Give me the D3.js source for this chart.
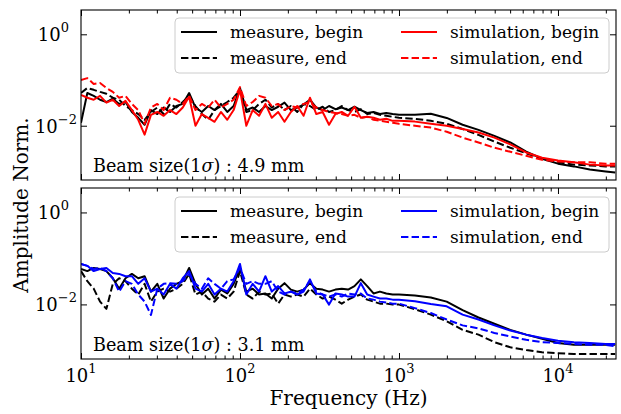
<!DOCTYPE html>
<html>
<head>
<meta charset="utf-8">
<script src="https://cdn.jsdelivr.net/npm/d3@7"></script>
<style>
  body { margin: 0; background: #fff; }
  svg { display: block; font-family: "DejaVu Serif", serif; }
</style>
</head>
<body>
<div id="chart"></div>
<script>
// frequency grid (Hz)
const freq = [10, 10.96, 12.02, 13.18, 14.45, 15.85, 17.38, 19.05, 20.89, 22.91,
  25.12, 27.54, 30.2, 33.11, 36.31, 39.81, 43.65, 47.86, 52.48, 57.54,
  63.1, 69.18, 75.86, 83.18, 91.2, 100, 109.6, 120.2, 131.8, 144.5,
  158.5, 173.8, 190.5, 208.9, 229.1, 251.2, 275.4, 302, 331.1, 363.1,
  398.1, 436.5, 478.6, 524.8, 575.4, 631, 691.8, 758.6, 831.8, 912, 1000,
  1259, 1585, 1995, 2512, 3162, 3981, 5012, 6310, 7943, 10000, 12589, 15849, 19953, 22909]

// top panel, beam size 4.9 mm
const topMeasureBegin = [0.0116, 0.052, 0.045, 0.037, 0.033, 0.039, 0.030, 0.033, 0.020, 0.0149,
  0.0105, 0.022, 0.018, 0.025, 0.020, 0.027, 0.030, 0.052, 0.025, 0.020,
  0.027, 0.022, 0.030, 0.020, 0.027, 0.067, 0.022, 0.025, 0.020, 0.027,
  0.022, 0.026, 0.032, 0.022, 0.025, 0.029, 0.037, 0.025, 0.022, 0.027,
  0.023, 0.025, 0.022, 0.026, 0.022, 0.019, 0.020, 0.018, 0.019, 0.018, 0.0173,
  0.0174, 0.0182, 0.0148, 0.0105, 0.0081, 0.0060, 0.0043, 0.0027, 0.0019, 0.00148, 0.00129, 0.0011, 0.0010, 0.00095]
const topMeasureEnd = [0.052, 0.067, 0.061, 0.055, 0.050, 0.041, 0.037, 0.027, 0.022, 0.018,
  0.0135, 0.020, 0.025, 0.018, 0.030, 0.025, 0.033, 0.045, 0.027, 0.018,
  0.0135, 0.022, 0.027, 0.033, 0.041, 0.061, 0.020, 0.022, 0.030, 0.037,
  0.025, 0.030, 0.022, 0.027, 0.020, 0.030, 0.027, 0.022, 0.026, 0.020,
  0.022, 0.027, 0.022, 0.020, 0.023, 0.018, 0.019, 0.0173, 0.0165, 0.0157, 0.0149,
  0.0142, 0.0128, 0.0110, 0.0085, 0.0063, 0.0045, 0.0033, 0.0025, 0.0019, 0.00158, 0.00141, 0.00135, 0.00129, 0.00129]
const topSimBegin = [0.047, 0.041, 0.037, 0.045, 0.032, 0.037, 0.027, 0.035, 0.022, 0.0135,
  0.0064, 0.0173, 0.020, 0.0165, 0.022, 0.018, 0.025, 0.043, 0.0100, 0.018,
  0.0149, 0.0122, 0.020, 0.0135, 0.022, 0.061, 0.0100, 0.022, 0.0165, 0.030,
  0.0149, 0.020, 0.0122, 0.020, 0.027, 0.0165, 0.041, 0.018, 0.020, 0.0105,
  0.018, 0.020, 0.0165, 0.026, 0.0149, 0.0157, 0.0149, 0.0135, 0.0142, 0.0128, 0.0128,
  0.0123, 0.0110, 0.0100, 0.0085, 0.0071, 0.0055, 0.0039, 0.0026, 0.0020, 0.00174, 0.00158, 0.00141, 0.00135, 0.00135]
const topSimEnd = [0.100, 0.110, 0.082, 0.086, 0.067, 0.055, 0.041, 0.045, 0.030, 0.022,
  0.0110, 0.025, 0.030, 0.022, 0.041, 0.037, 0.030, 0.045, 0.022, 0.030,
  0.025, 0.037, 0.025, 0.030, 0.037, 0.070, 0.027, 0.033, 0.045, 0.041,
  0.027, 0.030, 0.022, 0.027, 0.025, 0.030, 0.033, 0.025, 0.022, 0.020,
  0.019, 0.018, 0.0165, 0.0173, 0.0149, 0.0157, 0.0135, 0.0128, 0.0122, 0.0116, 0.0110,
  0.0100, 0.0091, 0.0074, 0.0055, 0.0043, 0.0033, 0.0027, 0.0022, 0.0018, 0.00166, 0.00158, 0.00158, 0.00148, 0.00148]

// bottom panel, beam size 3.1 mm
const botMeasureBegin = [0.059, 0.053, 0.062, 0.059, 0.053, 0.037, 0.022, 0.037, 0.046, 0.037,
  0.041, 0.019, 0.028, 0.0134, 0.022, 0.028, 0.032, 0.062, 0.028, 0.0164,
  0.022, 0.0134, 0.021, 0.0173, 0.028, 0.062, 0.019, 0.022, 0.0164, 0.0173,
  0.0134, 0.022, 0.029, 0.021, 0.019, 0.021, 0.029, 0.022, 0.021, 0.019,
  0.021, 0.022, 0.021, 0.025, 0.035, 0.025, 0.0173, 0.019, 0.0173, 0.0164, 0.0164,
  0.0156, 0.0141, 0.0115, 0.0075, 0.0052, 0.0038, 0.0028, 0.0022, 0.0018, 0.00145, 0.00132, 0.00132, 0.00132, 0.00132]
const botMeasureEnd = [0.053, 0.032, 0.022, 0.0115, 0.0080, 0.028, 0.037, 0.032, 0.022, 0.0164,
  0.028, 0.0115, 0.019, 0.022, 0.019, 0.022, 0.028, 0.046, 0.0164, 0.019,
  0.0134, 0.0115, 0.0164, 0.0134, 0.019, 0.053, 0.0164, 0.0134, 0.019, 0.0164,
  0.0173, 0.0104, 0.0164, 0.0148, 0.0164, 0.0148, 0.022, 0.0164, 0.0134, 0.0148,
  0.0127, 0.0104, 0.0127, 0.0148, 0.0164, 0.0127, 0.0115, 0.0104, 0.0104, 0.0099, 0.0099,
  0.0079, 0.0060, 0.0043, 0.0028, 0.0022, 0.00151, 0.00117, 0.00102, 0.00091, 0.00087, 0.00083, 0.00083, 0.00083, 0.00083]
const botSimBegin = [0.076, 0.069, 0.053, 0.059, 0.062, 0.048, 0.046, 0.041, 0.041, 0.028,
  0.037, 0.019, 0.022, 0.0164, 0.028, 0.022, 0.037, 0.053, 0.022, 0.019,
  0.028, 0.0164, 0.022, 0.019, 0.032, 0.076, 0.0164, 0.028, 0.019, 0.041,
  0.019, 0.025, 0.0173, 0.019, 0.0164, 0.019, 0.035, 0.0173, 0.0164, 0.0099,
  0.0173, 0.0164, 0.0148, 0.0148, 0.029, 0.0164, 0.0148, 0.0134, 0.0134, 0.0127, 0.0127,
  0.0117, 0.0102, 0.0091, 0.0060, 0.0047, 0.0035, 0.0027, 0.0022, 0.00186, 0.00162, 0.00151, 0.00145, 0.00138, 0.00138]
const botSimEnd = [0.076, 0.069, 0.059, 0.062, 0.053, 0.037, 0.019, 0.032, 0.028, 0.0164,
  0.0115, 0.0059, 0.022, 0.028, 0.029, 0.028, 0.032, 0.046, 0.028, 0.022,
  0.037, 0.028, 0.022, 0.032, 0.035, 0.062, 0.028, 0.032, 0.028, 0.028,
  0.032, 0.019, 0.0164, 0.019, 0.0173, 0.021, 0.032, 0.019, 0.0164, 0.0148,
  0.0164, 0.0148, 0.0173, 0.0164, 0.0173, 0.0134, 0.0127, 0.0115, 0.0110, 0.0104, 0.0104,
  0.0083, 0.0065, 0.0047, 0.0035, 0.0030, 0.0024, 0.0020, 0.0017, 0.00151, 0.00145, 0.00138, 0.00132, 0.00132, 0.00123]

const legendLabels = ["measure, begin", "measure, end", "simulation, begin", "simulation, end"]
const beamSizes = ["4.9", "3.1"]
const xMajor = [10, 100, 1000, 10000]
const yMajor = [1, 0.01]

const width = 621
const height = 414
const left = 81, right = 616
const dash = "7.4,3.2"

const x = d3.scaleLog().domain([10, 23170]).range([left, right])

const xMinor = []
for (let e = 1; e <= 4; e++) {
  for (let m = 2; m <= 9; m++) {
    if (m * 10 ** e < 23170) xMinor.push(m * 10 ** e)
  }
}

const svg = d3.select("#chart").append("svg")
  .attr("width", width)
  .attr("height", height)

svg.append("rect").attr("width", width).attr("height", height).attr("fill", "#fff")

const panels = [
  { top: 10, bottom: 180, legendTop: 18, color: "#ff0000",
    series: [topMeasureBegin, topMeasureEnd, topSimBegin, topSimEnd], beam: beamSizes[0] },
  { top: 188, bottom: 359, legendTop: 197, color: "#0000ff",
    series: [botMeasureBegin, botMeasureEnd, botSimBegin, botSimEnd], beam: beamSizes[1] }
]

function powLabel(sel, size, supSize, rise) {
  sel.each(function (d) {
    const t = d3.select(this)
    const e = Math.round(Math.log10(d))
    t.append("tspan").attr("font-size", size).text("10")
    t.append("tspan").attr("font-size", supSize).attr("dy", -rise)
      .text(e < 0 ? "\u2212" + (-e) : String(e))
  })
}

panels.forEach((p, pi) => {
  const y = d3.scaleLog().domain([6.5e-4, 3.4]).range([p.bottom, p.top])
  const g = svg.append("g")

  g.append("clipPath").attr("id", "clip" + pi)
    .append("rect")
    .attr("x", left).attr("y", p.top)
    .attr("width", right - left).attr("height", p.bottom - p.top)

  const styles = [
    { color: "#000", dash: null },
    { color: "#000", dash: dash },
    { color: p.color, dash: null },
    { color: p.color, dash: dash }
  ]

  const line = d3.line()
    .x((d, i) => x(freq[i]))
    .y(d => y(d))

  g.append("g").attr("clip-path", `url(#clip${pi})`)
    .selectAll("path")
    .data(p.series)
    .join("path")
    .attr("d", d => line(d))
    .attr("fill", "none")
    .attr("stroke", (d, i) => styles[i].color)
    .attr("stroke-dasharray", (d, i) => styles[i].dash)
    .attr("stroke-width", 2)
    .attr("stroke-linejoin", "round")

  // inward ticks on all four sides
  const tickAxes = [
    [d3.axisBottom(x).tickValues(xMajor).tickSize(-6), p.bottom, 0],
    [d3.axisBottom(x).tickValues(xMinor).tickSize(-3.5), p.bottom, 0],
    [d3.axisTop(x).tickValues(xMajor).tickSize(-6), p.top, 0],
    [d3.axisTop(x).tickValues(xMinor).tickSize(-3.5), p.top, 0],
    [d3.axisLeft(y).tickValues(yMajor).tickSize(-6), 0, left],
    [d3.axisRight(y).tickValues(yMajor).tickSize(-6), 0, right]
  ]
  tickAxes.forEach(([ax, ty, tx]) => {
    const a = g.append("g")
      .attr("transform", `translate(${tx},${ty})`)
      .call(ax.tickFormat(""))
    a.select(".domain").remove()
    a.selectAll("line").attr("stroke", "#000").attr("stroke-width", 1)
  })

  g.append("rect")
    .attr("x", left).attr("y", p.top)
    .attr("width", right - left).attr("height", p.bottom - p.top)
    .attr("fill", "none").attr("stroke", "#000").attr("stroke-width", 1.1)

  // y tick labels
  g.selectAll(".ylab")
    .data(yMajor)
    .join("text")
    .attr("class", "ylab")
    .attr("x", d => d === 1 ? 69 : 77)
    .attr("y", d => y(d) + 7)
    .attr("text-anchor", "end")
    .attr("fill", "#000")
    .call(powLabel, 18, 13, 9)

  // legend
  const lg = g.append("g")
  lg.append("rect")
    .attr("x", 175).attr("y", p.legendTop)
    .attr("width", 434).attr("height", 55)
    .attr("rx", 4)
    .attr("fill", "#fff").attr("fill-opacity", 0.8)
    .attr("stroke", "#cccccc").attr("stroke-width", 1)
  legendLabels.forEach((lab, i) => {
    const cx = i < 2 ? 181 : 401
    const cy = p.legendTop + (i % 2 === 0 ? 14 : 40)
    lg.append("line")
      .attr("x1", cx).attr("x2", cx + 36)
      .attr("y1", cy).attr("y2", cy)
      .attr("stroke", styles[i].color)
      .attr("stroke-width", 2)
      .attr("stroke-dasharray", styles[i].dash)
    lg.append("text")
      .attr("x", cx + 49).attr("y", cy + 6)
      .attr("font-size", 17)
      .attr("fill", "#000")
      .text(lab)
  })

  // beam size annotation
  const ann = g.append("text")
    .attr("x", 93).attr("y", p.bottom - 8.5)
    .attr("font-size", 17.6)
    .attr("fill", "#000")
  ann.append("tspan").text("Beam size(1")
  ann.append("tspan").attr("font-style", "italic").text("\u03c3")
  ann.append("tspan").text(") : " + p.beam + " mm")
})

// x tick labels (bottom panel only)
svg.selectAll(".xlab")
  .data(xMajor)
  .join("text")
  .attr("class", "xlab")
  .attr("x", d => x(d))
  .attr("y", 382)
  .attr("text-anchor", "middle")
  .attr("fill", "#000")
  .call(powLabel, 18, 13, 9)

svg.append("text")
  .attr("x", (left + right) / 2)
  .attr("y", 405)
  .attr("text-anchor", "middle")
  .attr("font-size", 20)
  .attr("fill", "#000")
  .text("Frequency (Hz)")

svg.append("text")
  .attr("transform", "translate(28,205) rotate(-90)")
  .attr("text-anchor", "middle")
  .attr("font-size", 20)
  .attr("fill", "#000")
  .text("Amplitude Norm.")
</script>
</body>
</html>
